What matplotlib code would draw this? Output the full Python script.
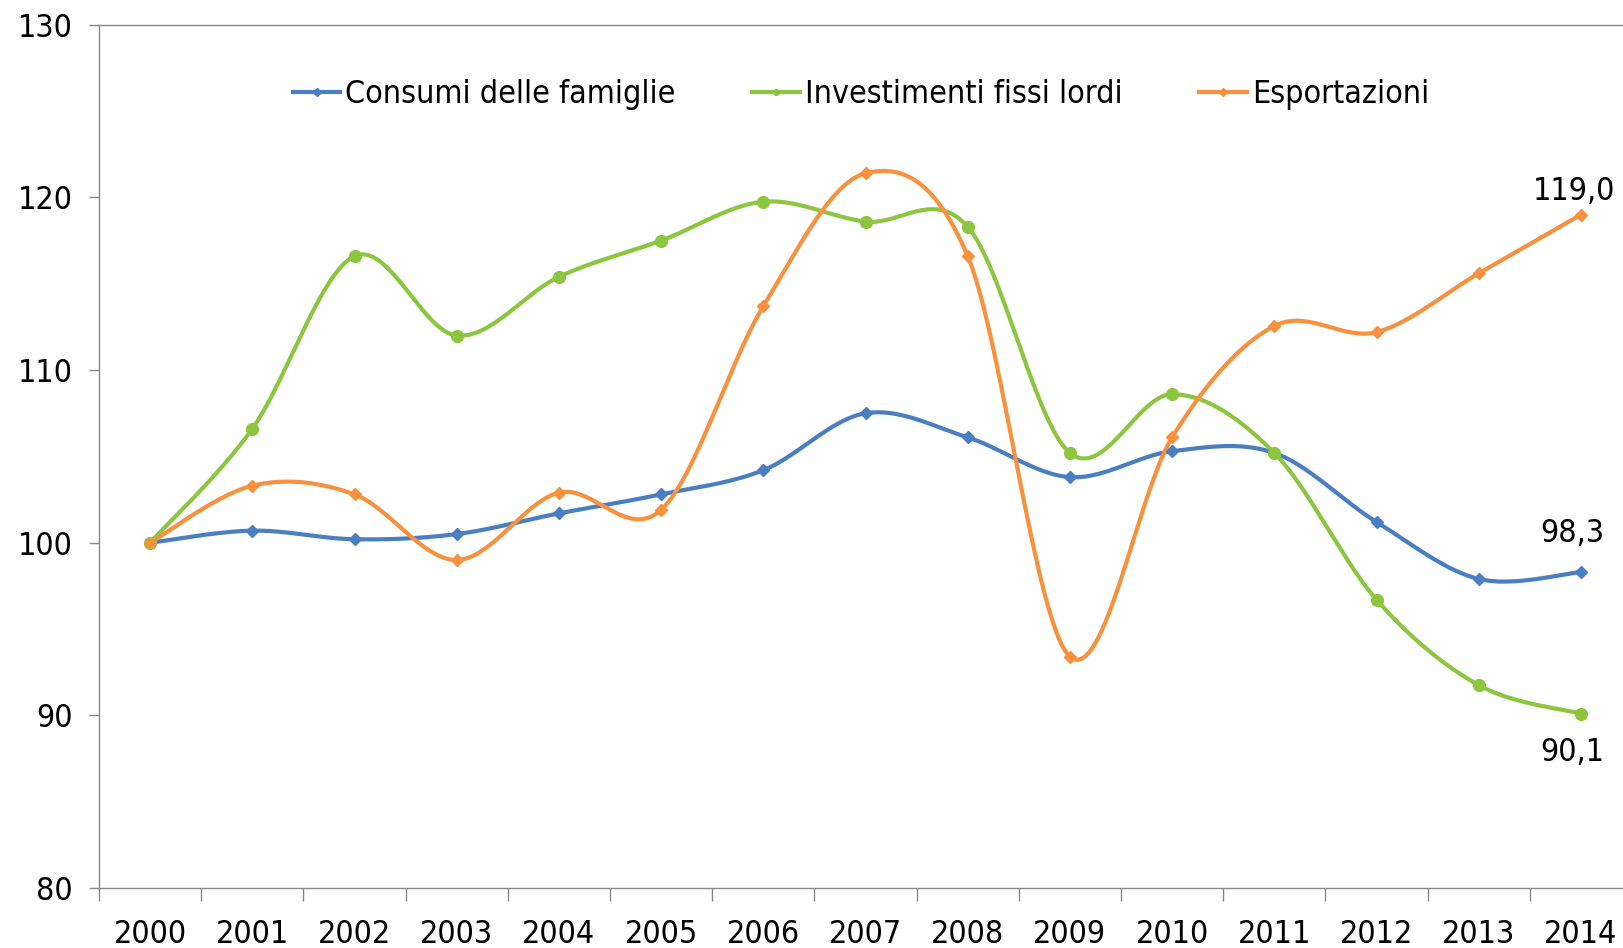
import numpy as np
import matplotlib
matplotlib.use("Agg")
import matplotlib.pyplot as plt

years = [str(y) for y in range(2000, 2015)]
consumi = [100.0, 100.7, 100.2, 100.5, 101.7, 102.8, 104.2, 107.5, 106.1,
           103.8, 105.3, 105.2, 101.2, 97.9, 98.3]
investimenti = [100.0, 106.6, 116.6, 112.0, 115.4, 117.5, 119.75, 118.6, 118.3,
                105.2, 108.6, 105.2, 96.7, 91.75, 90.1]
esportazioni = [100.0, 103.3, 102.8, 99.0, 102.9, 101.9, 113.7, 121.4, 116.6,
                93.4, 106.1, 112.55, 112.2, 115.6, 119.0]
series_names = ["Consumi delle famiglie", "Investimenti fissi lordi", "Esportazioni"]
y_ticks = [80, 90, 100, 110, 120, 130]
end_labels = ["98,3", "90,1", "119,0"]

FS = 23
FONT = dict(family="DejaVu Sans", stretch="condensed")
plt.rcParams["font.family"] = ["DejaVu Sans"]


def smooth(xs, ys, n=40):
    P = np.column_stack([np.asarray(xs, float), np.asarray(ys, float)])
    Pe = np.vstack([P[0], P, P[-1]])
    out = [P[0:1]]
    t = np.linspace(0, 1, n)[1:, None]
    for i in range(len(P) - 1):
        p0, p1, p2, p3 = Pe[i], Pe[i + 1], Pe[i + 2], Pe[i + 3]
        c1 = p1 + (p2 - p0) / 6.0
        c2 = p2 - (p3 - p1) / 6.0
        seg = ((1 - t) ** 3) * p1 + 3 * ((1 - t) ** 2) * t * c1 + 3 * (1 - t) * (t ** 2) * c2 + (t ** 3) * p2
        out.append(seg)
    return np.vstack(out)


fig = plt.figure(figsize=(16.23, 9.48), dpi=100)
ax = fig.add_axes([99 / 1623, 1 - 888 / 948, 1533 / 1623, (888 - 24.8) / 948])

x = np.arange(len(years))
colors = ["#4A7EC2", "#8CC63F", "#F7913D"]
markers = ["D", "o", "D"]
msizes = [6.5, 8.5, 6.5]
data = [consumi, investimenti, esportazioni]

for vals, c, m, ms, name in zip(data, colors, markers, msizes, series_names):
    curve = smooth(x, vals)
    ax.plot(curve[:, 0], curve[:, 1], color=c, lw=3.0, solid_capstyle="round", zorder=3)
    ax.plot(x, vals, linestyle="none", marker=m, color=c, markersize=ms, zorder=4)
    ax.plot([], [], color=c, lw=3.0, marker=m, markersize=4, label=name)

# end-of-series data labels
offsets = [(-6, 28), (-6, -28), (-5, 17)]
for vals, lab, off in zip(data, end_labels, offsets):
    ax.annotate(lab, xy=(x[-1], vals[-1]), xytext=off, textcoords="offset points",
                ha="center", va="center", fontsize=FS, color="black", **FONT)

ax.set_xlim(-0.5, len(years) - 0.5)
ax.set_ylim(80, 130)
ax.set_yticks(y_ticks)
ax.set_yticklabels([str(v) for v in y_ticks], fontsize=FS, **FONT)
ax.set_xticks(x)
ax.set_xticklabels(years, fontsize=FS, **FONT)
ax.set_xticks(np.arange(-0.5, len(years), 1.0), minor=True)
ax.tick_params(axis="x", which="major", length=0, pad=22)
ax.tick_params(axis="x", which="minor", length=9, color="#898989", width=1)
ax.tick_params(axis="y", which="major", length=7, color="#898989", width=1, pad=12)

for s in ["left", "bottom", "top"]:
    ax.spines[s].set_color("#898989")
    ax.spines[s].set_linewidth(1.0)
ax.spines["right"].set_visible(False)

leg = ax.legend(loc="center", bbox_to_anchor=(0.497, 0.919), ncol=3, frameon=False,
                handlelength=1.5, handletextpad=0.15, columnspacing=2.4,
                prop=dict(size=FS, **FONT))

fig.savefig("out.png", dpi=100)
